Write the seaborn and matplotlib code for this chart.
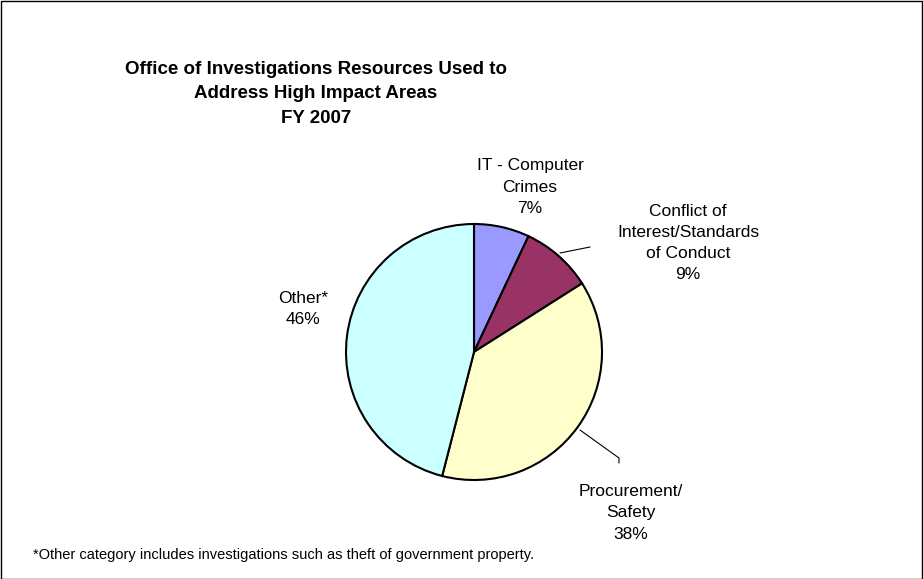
import matplotlib
matplotlib.use("Agg")
import matplotlib.pyplot as plt
import seaborn as sns
from matplotlib.patches import Rectangle

sns.set_theme(style="white")
plt.rcParams['font.family'] = ['Liberation Sans', 'DejaVu Sans']
plt.rcParams['text.color'] = 'black'

categories = ["IT - Computer\nCrimes", "Conflict of\nInterest/Standards\nof Conduct",
              "Procurement/\nSafety", "Other*"]
values = [7, 9, 38, 46]
colors = ["#9999FF", "#993366", "#FFFFCC", "#CCFFFF"]
title = "Office of Investigations Resources Used to\nAddress High Impact Areas\nFY 2007"
footnote = "*Other category includes investigations such as theft of government property."

W, H = 923, 579
fig = plt.figure(figsize=(W / 100, H / 100), dpi=100)
fig.patch.set_facecolor("white")

cx, cy, R = 474, 352, 128
ax = fig.add_axes([(cx - R) / W, (H - cy - R) / H, 2 * R / W, 2 * R / H])
wedges, _ = ax.pie(values, colors=colors, startangle=90, counterclock=False,
                   wedgeprops=dict(edgecolor="black", linewidth=1.5))
ax.set_xlim(-1, 1)
ax.set_ylim(-1, 1)
ax.set_aspect("equal")
ax.axis("off")

def px(x, y):
    return ((x - cx) / R, (cy - y) / R)

label_pos = [(530, 187), (688, 243), (631, 513), (303, 309)]
for lab, v, (lx, ly) in zip(categories, values, label_pos):
    ax.text(*px(lx, ly), f"{lab}\n{v}%", ha="center", va="center",
            fontsize=12.5, linespacing=1.52, color="black")

ax.plot(*zip(px(560, 253), px(590, 247)), color="black", lw=0.8, clip_on=False)
ax.plot(*zip(px(580, 430), px(619, 458), px(619, 463)), color="black", lw=0.8, clip_on=False)

fig.text(316 / W, 1 - 94 / H, title, ha="center", va="center", fontsize=13.5,
         fontweight="bold", linespacing=1.6, color="black")
fig.text(33 / W, 1 - 555 / H, footnote, ha="left", va="center", fontsize=10.5,
         color="black")

fig.add_artist(Rectangle((0.5 / W, 0.5 / H), 1 - 1.5 / W, 1 - 1.5 / H, transform=fig.transFigure,
                         fill=False, edgecolor="black", lw=1))

fig.savefig("out.png", dpi=100)
